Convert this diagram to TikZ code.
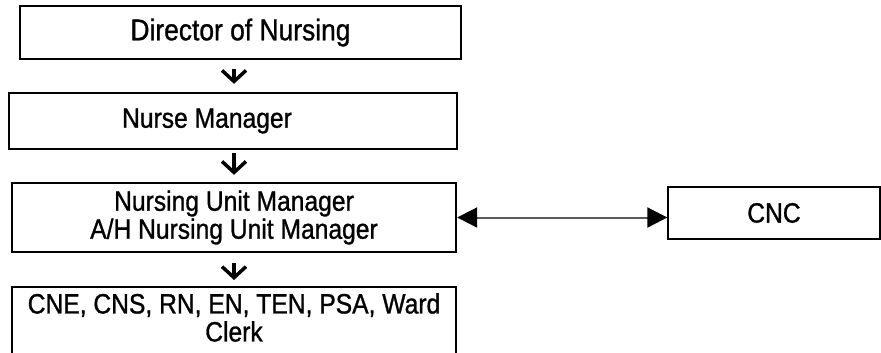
\documentclass[tikz,border=0pt]{standalone}
\usepackage{fontspec}
\setmainfont{Liberation Sans}[FakeStretch=0.88,FakeBold=1]
\usetikzlibrary{arrows.meta}

\tikzset{
    rolebox/.style={draw, line width=2.4pt, inner sep=0pt, align=center,
        font=\fontsize{28}{28}\selectfont},
    sidebox/.style={draw, line width=1.4pt, inner sep=0pt,
        font=\fontsize{28}{28}\selectfont},
    downarr/.style={line width=3.5pt, -{Straight Barb[length=11pt,width=24pt]}},
    biarr/.style={draw=black!65, line width=2pt,
        {Triangle[length=20pt,width=20pt,color=black]}-{Triangle[length=20pt,width=20pt,color=black]}}
}

\begin{document}
\begin{tikzpicture}[x=1pt,y=-1pt]
            \useasboundingbox (0,0) rectangle (881,353);
            \node[rolebox, minimum width=441pt, minimum height=53pt, font=\fontsize{30}{30}\selectfont] (dir) at (240.5,32.5) {Director of Nursing};
            \node[rolebox, minimum width=448pt, minimum height=56pt] (nm) at (233,121) {Nurse Manager\hspace*{52pt}};
            \node[rolebox, minimum width=444pt, minimum height=69pt] (num) at (234,217.5)
                {Nursing Unit Manager\\A/H Nursing Unit Manager};
            \node[rolebox, minimum width=444pt, anchor=north, inner ysep=6pt, text depth=30pt] (staff) at (234,286)
                {CNE, CNS, RN, EN, TEN, PSA, Ward\\Clerk};
            \node[sidebox, minimum width=212pt, minimum height=52pt] (cnc) at (774,213) {CNC};

            % reporting lines
            \draw[downarr, shorten <=9pt, shorten >=8pt] (dir.south -| num.north) -- (nm.north -| num.north);
            \draw[downarr, shorten <=3pt, shorten >=7pt] (nm.south -| num.north) -- (num.north);
            \draw[downarr, shorten <=10pt, shorten >=6pt] (num.south) -- (staff.north);
            \draw[biarr] (num.east) -- (num.east -| cnc.west);
        \end{tikzpicture}
\end{document}
